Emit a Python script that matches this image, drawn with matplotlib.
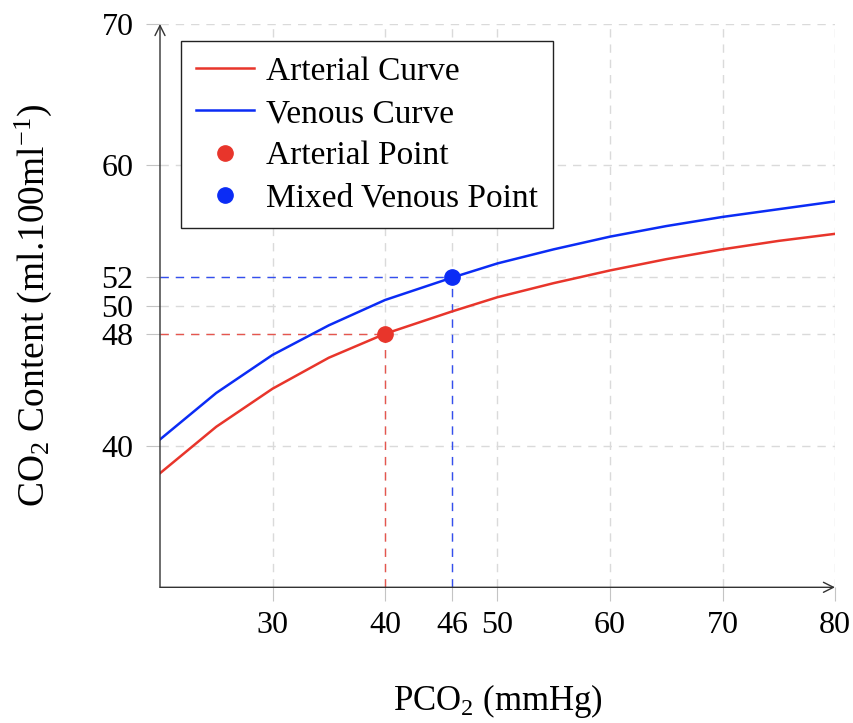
import matplotlib
matplotlib.use("Agg")
import matplotlib.pyplot as plt

# values
pco2 = [20, 25, 30, 35, 40, 46, 50, 55, 60, 65, 70, 75, 80]
arterial = [38.1, 41.4, 44.1, 46.3, 48.0, 49.6, 50.6, 51.6, 52.5, 53.3, 54.0, 54.6, 55.1]
venous = [40.5, 43.8, 46.5, 48.6, 50.4, 52.0, 53.0, 54.0, 54.9, 55.65, 56.3, 56.85, 57.4]
arterial_point = (40, 48)
venous_point = (46, 52)
x_ticks = [30, 40, 46, 50, 60, 70, 80]
y_ticks = [40, 48, 50, 52, 60, 70]
x_range = (20, 80)
y_range = (30, 70)

RED = "#e8352b"
BLUE = "#0b2cf5"

plt.rcParams["font.family"] = ["Liberation Serif", "DejaVu Serif"]
plt.rcParams["mathtext.fontset"] = "custom"
plt.rcParams["mathtext.rm"] = "Liberation Serif"
plt.rcParams["mathtext.it"] = "Liberation Serif:italic"

fig = plt.figure(figsize=(8.54, 7.23), dpi=100)
ax = fig.add_axes([160 / 854, 135.7 / 723, 675 / 854, 563.3 / 723])

ax.plot(pco2, arterial, color=RED, lw=1.8, label="Arterial Curve", zorder=3)
ax.plot(pco2, venous, color=BLUE, lw=1.8, label="Venous Curve", zorder=3)

# dashed guide lines from the points to the axes
for (px, py), c in [(arterial_point, RED), (venous_point, BLUE)]:
    ax.plot([x_range[0], px], [py, py], color=c, lw=1.0, alpha=0.8,
            linestyle=(0, (6, 5)), zorder=2)
    ax.plot([px, px], [y_range[0], py], color=c, lw=1.0, alpha=0.8,
            linestyle=(0, (6, 5)), zorder=2)

ax.plot(*arterial_point, "o", color=RED, ms=11, label="Arterial Point", zorder=4)
ax.plot(*venous_point, "o", color=BLUE, ms=11, label="Mixed Venous Point", zorder=4)

ax.set_xlim(*x_range)
ax.set_ylim(*y_range)
ax.set_xticks(x_ticks)
ax.set_yticks(y_ticks)
ax.tick_params(labelsize=23, direction="out", length=10, width=0.8,
               color="#c4c4c4")
ax.tick_params(axis="x", pad=7)
ax.tick_params(axis="y", pad=9)
ax.grid(True, color="#dadada", lw=1.0, linestyle=(0, (6, 5)), zorder=0)

for s in ax.spines.values():
    s.set_visible(False)

# axis lines with arrow heads (pgfplots "axis lines=left" look)
arrow = dict(arrowstyle="->", color="#333333", lw=1.0, shrinkA=0, shrinkB=0,
             mutation_scale=18)
ax.annotate("", xy=(1, 0), xytext=(0, 0), xycoords="axes fraction",
            arrowprops=arrow, annotation_clip=False)
ax.annotate("", xy=(0, 1), xytext=(0, 0), xycoords="axes fraction",
            arrowprops=arrow, annotation_clip=False)

ax.set_xlabel(r"PCO$_2$ (mmHg)", fontsize=25, labelpad=30)
ax.set_ylabel(r"CO$_2$ Content (ml.100ml$^{\mathrm{-1}}$)", fontsize=27,
              labelpad=34)

leg = ax.legend(loc="upper left", bbox_to_anchor=(0.031, 0.969),
                borderaxespad=0, fontsize=24, frameon=True, fancybox=False,
                edgecolor="#222222", framealpha=1, handlelength=1.75,
                handletextpad=0.35, labelspacing=0.35, borderpad=0.45)
leg.get_frame().set_linewidth(1.0)

fig.savefig("out.png", dpi=100)
